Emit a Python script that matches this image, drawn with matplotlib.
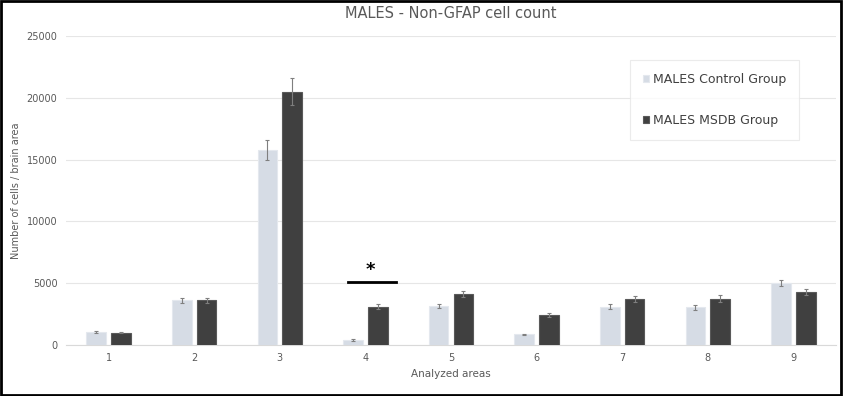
import numpy as np
import matplotlib.pyplot as plt
from matplotlib.patches import Rectangle

# data
areas = ['1', '2', '3', '4', '5', '6', '7', '8', '9']
control = [1050, 3600, 15800, 400, 3150, 850, 3100, 3050, 5000]
control_err = [100, 200, 800, 50, 200, 60, 200, 200, 250]
msdb = [1000, 3600, 20500, 3100, 4100, 2400, 3700, 3750, 4250]
msdb_err = [60, 180, 1100, 200, 250, 150, 250, 250, 250]
yticks = [0, 5000, 10000, 15000, 20000, 25000]

fig = plt.figure(figsize=(8.43, 3.96), dpi=100)
ax = fig.add_axes([0.078, 0.129, 0.914, 0.78])

x = np.arange(len(areas))
w = 0.23
off = 0.145
ax.bar(x - off, control, w, color='#d6dce5', edgecolor='#e4e8ee', lw=0.8,
       yerr=control_err, error_kw=dict(ecolor='#7f7f7f', elinewidth=0.8, capsize=1.5, capthick=0.8),
       label='MALES Control Group', zorder=3)
ax.bar(x + off, msdb, w, color='#404040', edgecolor='#595959', lw=0.8,
       yerr=msdb_err, error_kw=dict(ecolor='#7f7f7f', elinewidth=0.8, capsize=1.5, capthick=0.8),
       label='MALES MSDB Group', zorder=3)

# significance marker over area 4
ax.plot([3 - 0.2, 3 + 0.36], [5100, 5100], color='black', lw=2, zorder=4)
ax.text(3 + 0.06, 5300, '*', ha='center', va='bottom', fontsize=13, fontweight='bold')

ax.set_xlim(-0.5, len(areas) - 0.5)
ax.set_ylim(0, 25000)
ax.set_yticks(yticks)
ax.set_xticks(x)
ax.set_xticklabels(areas)
ax.tick_params(axis='both', length=0, labelsize=7, colors='#595959', pad=6)
ax.yaxis.grid(True, color='#e6e6e6', lw=0.8, zorder=0)
ax.set_axisbelow(True)
for s in ['top', 'right', 'left']:
    ax.spines[s].set_visible(False)
ax.spines['bottom'].set_color('#d9d9d9')

ax.set_title('MALES - Non-GFAP cell count', fontsize=10.5, color='#595959', pad=13)
ax.set_ylabel('Number of cells / brain area', fontsize=7, color='#595959', labelpad=4)
ax.set_xlabel('Analyzed areas', fontsize=7.5, color='#595959', labelpad=4)

leg = ax.legend(loc='upper right', bbox_to_anchor=(0.952, 0.922), fontsize=9,
                frameon=True, fancybox=False, edgecolor='#e6e6e6',
                handlelength=0.5, handleheight=0.5, handletextpad=0.3,
                labelspacing=2.2, borderpad=1.05, borderaxespad=0, labelcolor='#404040')
leg.get_frame().set_linewidth(0.8)

fig.patches.append(Rectangle((0.001, 0.002), 0.997, 0.995, transform=fig.transFigure,
                             fill=False, edgecolor='black', lw=2))

plt.savefig('out.png', dpi=100)
